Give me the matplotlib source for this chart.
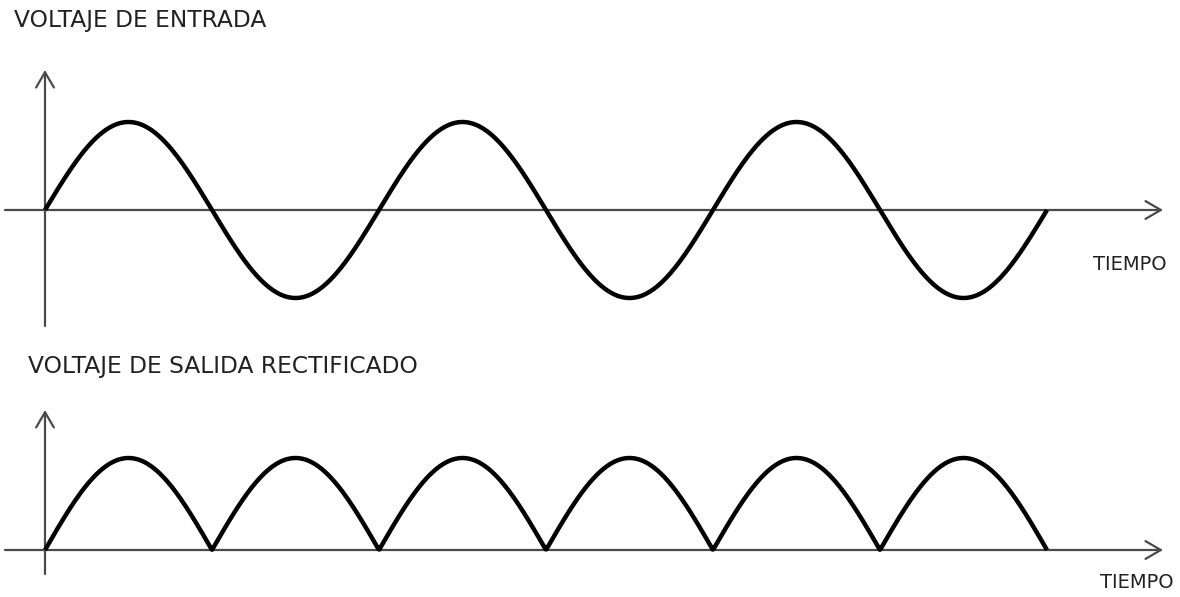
import matplotlib.pyplot as plt
import numpy as np

# waveform description: cycles of the input sine, amplitude in arbitrary units
cycles = 3
amplitude = 1.0
titles = ["VOLTAJE DE ENTRADA", "VOLTAJE DE SALIDA RECTIFICADO"]
xlabel = "TIEMPO"

t = np.linspace(0, cycles, 1200)
v_in = amplitude * np.sin(2 * np.pi * t)
v_out = np.abs(v_in)

W, H = 1180, 597
fig = plt.figure(figsize=(W / 100, H / 100), dpi=100)
fig.patch.set_facecolor("white")

px_period = 334.0   # pixels per cycle
x0_px = 45.0        # pixel of t = 0


def make_axes(top_px, bot_px, zero_px, amp_px):
    ax = fig.add_axes([0, 1 - bot_px / H, 1, (bot_px - top_px) / H])
    ax.set_xlim(-x0_px / px_period, (W - x0_px) / px_period)
    ax.set_ylim(-(bot_px - zero_px) / amp_px, (zero_px - top_px) / amp_px)
    ax.axis("off")
    return ax


def px2t(x):
    return (x - x0_px) / px_period


axis_col = "#4a4a4a"
arrow = dict(arrowstyle="->,head_length=0.55,head_width=0.32", color=axis_col,
             lw=1.6, mutation_scale=20, shrinkA=0, shrinkB=0)

# top panel
ax1 = make_axes(40, 340, 210, 88)
a1 = 88.0
ax1.annotate("", xy=(px2t(1163), 0), xytext=(px2t(5), 0), arrowprops=arrow)
ax1.annotate("", xy=(0, (210 - 70) / a1), xytext=(0, (210 - 326) / a1), arrowprops=arrow)
ax1.plot(t, v_in, color="black", lw=3.2, solid_capstyle="butt", zorder=3)

# bottom panel
ax2 = make_axes(390, 597, 550, 92)
a2 = 92.0
ax2.annotate("", xy=(px2t(1163), 0), xytext=(px2t(5), 0), arrowprops=arrow)
ax2.annotate("", xy=(0, (550 - 410) / a2), xytext=(0, (550 - 574) / a2), arrowprops=arrow)
ax2.plot(t, v_out, color="black", lw=3.2, solid_capstyle="butt", zorder=3)

txt = dict(family="DejaVu Sans", color="#222222", va="center", ha="left")
fig.text(14 / W, 1 - 20 / H, titles[0], fontsize=16.8, **txt)
fig.text(28 / W, 1 - 367 / H, titles[1], fontsize=16.8, **txt)
fig.text(1093 / W, 1 - 264 / H, xlabel, fontsize=14, **txt)
fig.text(1100 / W, 1 - 583 / H, xlabel, fontsize=14, **txt)

fig.savefig("out.png", dpi=100, facecolor="white")
